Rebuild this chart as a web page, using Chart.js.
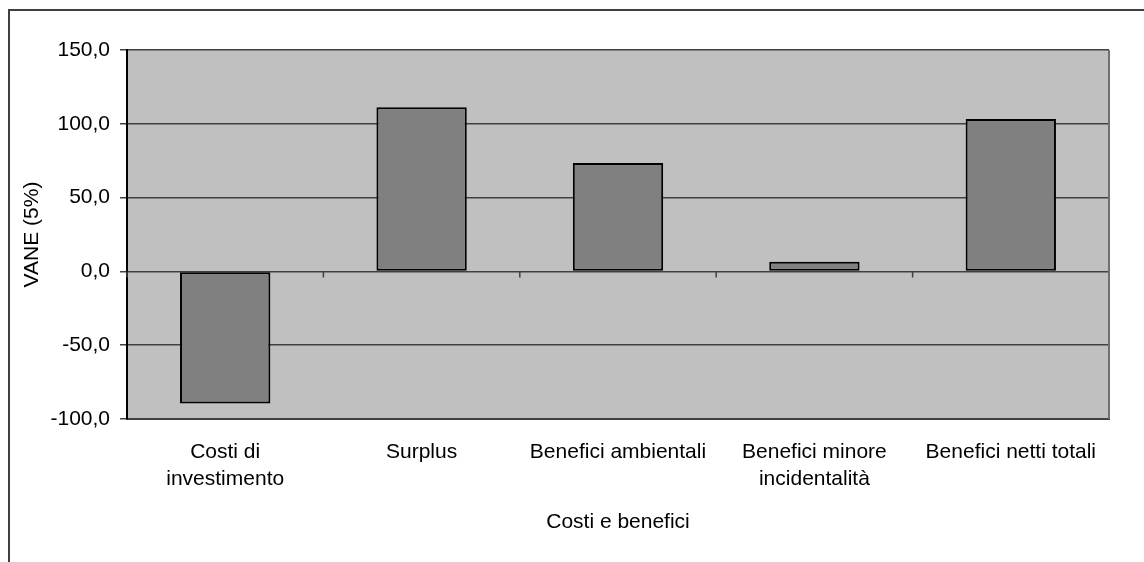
<!DOCTYPE html>
<html>
<head>
<meta charset="utf-8">
<script src="https://cdn.jsdelivr.net/npm/chart.js@4.4.0/dist/chart.umd.min.js"></script>
<style>
  html, body { margin: 0; padding: 0; background: #fff; }
</style>
</head>
<body>
<canvas id="vaneChart" width="1144" height="562"></canvas>
<script>
// data
const categories = [['Costi di', 'investimento'], 'Surplus', 'Benefici ambientali', ['Benefici minore', 'incidentalità'], 'Benefici netti totali'];
const vane = [-89.5, 111.2, 73.4, 6.6, 103.2];
const yTicks = [-100, -50, 0, 50, 100, 150];

const FONT = "'Liberation Sans', Arial, sans-serif";

// gray plot area, outer frame, ticks on the zero line
const excelLook = {
    id: 'excelLook',
    beforeDraw(chart) {
        const c = chart.ctx, a = chart.chartArea;
        c.save();
        c.fillStyle = '#c0c0c0';
        c.fillRect(a.left, a.top, a.right - a.left, a.bottom - a.top);
        c.strokeStyle = '#404040';
        c.lineWidth = 2;
        c.beginPath();
        c.moveTo(9, chart.height);
        c.lineTo(9, 10);
        c.lineTo(chart.width, 10);
        c.stroke();
        c.restore();
    },
    afterDatasetsDraw(chart) {
        const c = chart.ctx, a = chart.chartArea;
        const x = chart.scales.x, y = chart.scales.y;
        const y0 = y.getPixelForValue(0);
        c.save();
        c.strokeStyle = '#404040';
        c.lineWidth = 1.5;
        c.beginPath();
        for (let i = 0; i <= categories.length; i++) {
            const px = x.getPixelForValue(i - 0.5);
            c.moveTo(px, y0);
            c.lineTo(px, y0 + 6);
        }
        c.stroke();
        c.strokeStyle = '#707070';
        c.lineWidth = 2;
        c.beginPath();
        c.moveTo(a.right, a.top);
        c.lineTo(a.right, a.bottom);
        c.stroke();
        c.restore();
    }
};

const vaneChart = new Chart(document.getElementById('vaneChart'), {
    type: 'bar',
    data: {
        labels: categories,
        datasets: [{
            label: 'VANE (5%)',
            data: vane,
            backgroundColor: '#808080',
            borderColor: '#000000',
            borderWidth: 2,
            borderSkipped: false,
            categoryPercentage: 1,
            barPercentage: 0.46
        }]
    },
    options: {
        responsive: false,
        animation: false,
        events: [],
        layout: { padding: { top: 50, right: 35, left: 0, bottom: 0 } },
        plugins: {
            legend: { display: false },
            tooltip: { enabled: false }
        },
        scales: {
            x: {
                grid: { display: false, drawTicks: false },
                border: { display: true, color: '#404040', width: 2 },
                ticks: {
                    color: '#000',
                    padding: 20,
                    maxRotation: 0,
                    autoSkip: false,
                    font: { family: FONT, size: 21, lineHeight: 1.29 }
                },
                title: {
                    display: true,
                    text: 'Costi e benefici',
                    color: '#000',
                    font: { family: FONT, size: 21 },
                    padding: { top: 0, bottom: 27 }
                },
                afterFit(scale) { scale.height = 143; }
            },
            y: {
                min: -100,
                max: 150,
                afterBuildTicks(scale) { scale.ticks = yTicks.map(v => ({ value: v })); },
                grid: { color: '#404040', lineWidth: 1.5, tickLength: 7 },
                border: { display: true, color: '#000', width: 2 },
                ticks: {
                    color: '#000',
                    padding: 10,
                    font: { family: FONT, size: 21 },
                    callback: v => v.toFixed(1).replace('.', ',')
                },
                title: {
                    display: true,
                    text: 'VANE (5%)',
                    color: '#000',
                    font: { family: FONT, size: 21 },
                    padding: { top: 20, bottom: 0 }
                },
                afterFit(scale) { scale.width = 127; }
            }
        }
    },
    plugins: [excelLook]
});
</script>
</body>
</html>
